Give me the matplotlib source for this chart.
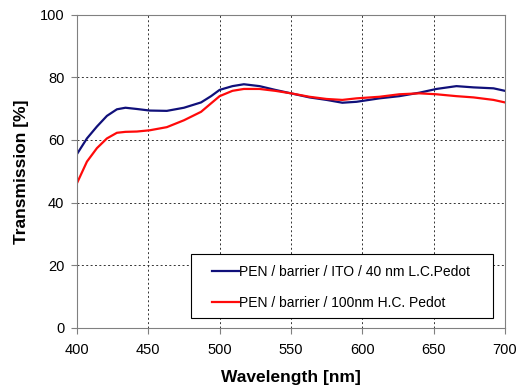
import matplotlib
matplotlib.use("Agg")
import matplotlib.pyplot as plt
from matplotlib.patches import Rectangle

plt.rcParams['font.family'] = ['Liberation Sans', 'DejaVu Sans']

# values
wavelength = [400, 407, 414, 421, 428, 434, 442, 451, 463, 475, 487, 494, 500,
              509, 517, 528, 539, 550, 563, 575, 586, 596, 612, 626, 640, 652,
              666, 678, 692, 700]
ito_pedot = [55.5, 60.5, 64.3, 67.7, 69.8, 70.3, 69.9, 69.4, 69.3, 70.3, 72.0,
             74.0, 76.0, 77.2, 77.8, 77.2, 76.0, 74.9, 73.6, 72.8, 71.9, 72.2,
             73.3, 74.0, 75.1, 76.3, 77.2, 76.8, 76.5, 75.7]
hc_pedot = [46.2, 53.1, 57.4, 60.5, 62.3, 62.6, 62.7, 63.1, 64.1, 66.3, 69.0,
            71.7, 74.0, 75.7, 76.3, 76.3, 75.7, 74.9, 73.8, 73.1, 72.8, 73.3,
            73.8, 74.6, 74.9, 74.6, 74.0, 73.6, 72.8, 72.0]
labels = ["PEN / barrier / ITO / 40 nm L.C.Pedot",
          "PEN / barrier / 100nm H.C. Pedot"]
x_ticks = [400, 450, 500, 550, 600, 650, 700]
y_ticks = [0, 20, 40, 60, 80, 100]

fig = plt.figure(figsize=(5.2, 3.88), dpi=100)
ax = fig.add_axes([0.148, 0.155, 0.823, 0.807])

ax.plot(wavelength, ito_pedot, color='#10107a', lw=1.6, label=labels[0])
ax.plot(wavelength, hc_pedot, color='#ff0a0a', lw=1.6, label=labels[1])

ax.set_xlim(400, 700)
ax.set_ylim(0, 100)
ax.set_xticks(x_ticks)
ax.set_yticks(y_ticks)
ax.grid(True, color='#333333', linestyle=(0, (2, 2.5)), linewidth=0.7)
for s in ax.spines.values():
    s.set_color('#808080')
ax.tick_params(direction='out', length=4, color='#808080', labelsize=10.5)
ax.tick_params(axis='x', pad=7)
ax.tick_params(axis='y', pad=5)

ax.set_xlabel('Wavelength [nm]', fontsize=12.5, fontweight='bold', labelpad=9)
ax.set_ylabel('Transmission [%]', fontsize=12.5, fontweight='bold', labelpad=8)

# legend box drawn by hand, legend itself without frame
box = Rectangle((0.266, 0.031), 0.705, 0.205, transform=ax.transAxes,
                facecolor='white', edgecolor='black', lw=0.8, zorder=4)
ax.add_patch(box)
leg = ax.legend(loc='upper left', bbox_to_anchor=(0.315, 0.200),
                borderaxespad=0, borderpad=0, fontsize=10, handlelength=1.95,
                handletextpad=0.0, labelspacing=1.2, frameon=False)
leg.set_zorder(5)

fig.savefig('out.png', dpi=100)
